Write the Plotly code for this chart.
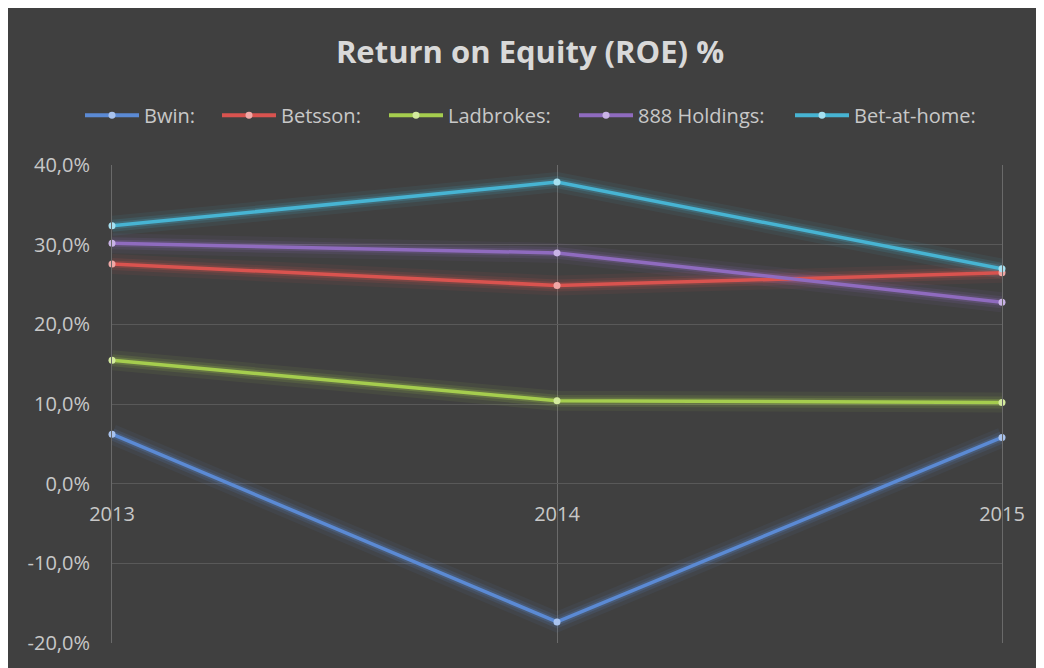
import plotly.graph_objects as go

years = ["2013", "2014", "2015"]
series_names = ["Bwin:", "Betsson:", "Ladbrokes:", "888 Holdings:", "Bet-at-home:"]
bwin = [6.2, -17.4, 5.8]
betsson = [27.6, 24.9, 26.5]
ladbrokes = [15.5, 10.4, 10.2]
holdings888 = [30.2, 29.0, 22.8]
bet_at_home = [32.4, 37.9, 27.0]
y_ticks = [-20, -10, 0, 10, 20, 30, 40]
y_tick_labels = [f"{v:.1f}%".replace(".", ",") for v in y_ticks]

values = [bwin, betsson, ladbrokes, holdings888, bet_at_home]
line_colors = ["#5b8ad4", "#d9534f", "#a5cd4e", "#8f6bbf", "#47b4d3"]
marker_colors = ["#a9c3ee", "#f0a8a6", "#d4ea9e", "#c9b3e6", "#a6e0f0"]

# page has an 8px body margin; figure sized so it fits the window
OFF = 8
W, H = 1044 - OFF, 668 - OFF
L, T = 112 - OFF, 165 - OFF
R, B = W - (1002 - OFF), H - (646 - OFF)
pw, ph = W - L - R, H - T - B

fig = go.Figure()
for vals, col in zip(values, line_colors):
    for w, op in [(20, 0.07), (12, 0.13), (7, 0.22)]:
        fig.add_trace(go.Scatter(x=years, y=vals, mode="lines",
                                 line=dict(color=col, width=w), opacity=op,
                                 showlegend=False, hoverinfo="skip", cliponaxis=False))
for name, vals, col, mcol in zip(series_names, values, line_colors, marker_colors):
    fig.add_trace(go.Scatter(x=years, y=vals, name=name, mode="lines+markers",
                             line=dict(color=col, width=3.5),
                             marker=dict(color=mcol, size=7, line=dict(width=0)),
                             cliponaxis=False, showlegend=False))

fnt = "Open Sans, Noto Sans, sans-serif"
txt_col = "#c8c8c8"

# manual legend (page x of each entry's line start)
legend_x = [85, 222, 389, 579, 795]
legend_y_page = 115
sym_len = 54
shapes, annotations = [], []
ly = (H - (legend_y_page - OFF) - B) / ph
for name, col, mcol, xs in zip(series_names, line_colors, marker_colors, legend_x):
    x0 = (xs - OFF - L) / pw
    x1 = (xs - OFF + sym_len - L) / pw
    xm = (x0 + x1) / 2
    shapes.append(dict(type="line", xref="paper", yref="paper", x0=x0, x1=x1, y0=ly, y1=ly,
                       line=dict(color=col, width=4)))
    r_x, r_y = 3.5 / pw, 3.5 / ph
    shapes.append(dict(type="circle", xref="paper", yref="paper",
                       x0=xm - r_x, x1=xm + r_x, y0=ly - r_y, y1=ly + r_y,
                       fillcolor=mcol, line=dict(width=0)))
    annotations.append(dict(text=name, xref="paper", yref="paper", x=x1 + 3 / pw, y=ly,
                            xanchor="left", yanchor="middle", showarrow=False,
                            font=dict(family=fnt, size=20, color=txt_col)))

fig.update_layout(
    width=W, height=H,
    margin=dict(l=L, r=R, t=T, b=B),
    paper_bgcolor="#404040", plot_bgcolor="#404040",
    title=dict(text="<b>Return on Equity (ROE) %</b>", x=(530 - OFF) / W, xref="container",
               xanchor="center", y=1 - (52 - OFF) / H, yref="container", yanchor="middle",
               font=dict(family=fnt, size=31, color="#d9d9d9")),
    showlegend=False,
    xaxis=dict(type="category", range=[0, 2], showgrid=True, gridcolor="#6a6a6a", gridwidth=1,
               anchor="free", position=(646 - 485) / ph, showline=False, zeroline=False,
               ticks="outside", ticklen=13, tickcolor="rgba(0,0,0,0)",
               tickfont=dict(family=fnt, size=20, color=txt_col)),
    yaxis=dict(range=[-20.05, 40.05], tickvals=y_ticks, ticktext=y_tick_labels,
               showgrid=True, gridcolor="#595959", gridwidth=1, zeroline=False,
               showline=True, mirror=True, linecolor="#6a6a6a", linewidth=1,
               ticks="outside", ticklen=17, tickcolor="rgba(0,0,0,0)",
               tickfont=dict(family=fnt, size=20, color=txt_col)),
    shapes=shapes,
    annotations=annotations,
)
fig.write_html("out.html")
